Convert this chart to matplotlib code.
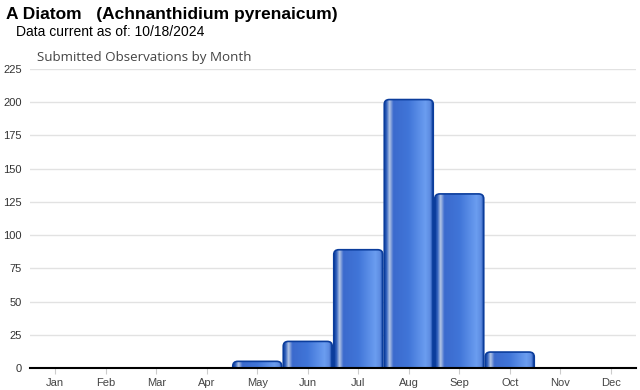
import matplotlib.pyplot as plt
import numpy as np
from matplotlib.patches import FancyBboxPatch
from matplotlib.colors import LinearSegmentedColormap

months = ['Jan', 'Feb', 'Mar', 'Apr', 'May', 'Jun', 'Jul', 'Aug', 'Sep', 'Oct', 'Nov', 'Dec']
counts = [0, 0, 0, 0, 5, 20, 89, 202, 131, 12, 0, 0]
yticks = [0, 25, 50, 75, 100, 125, 150, 175, 200, 225]

plt.rcParams['font.family'] = ['Liberation Sans', 'DejaVu Sans']

fig = plt.figure(figsize=(6.4, 3.9), dpi=100)
ax = fig.add_axes([30/640, 22/390, 606/640, 299/390])

# horizontal shading across each bar
grad = LinearSegmentedColormap.from_list('bar', [
    (0.0, '#0d3f9e'), (0.05, '#3563be'), (0.11, '#b4c6e6'), (0.19, '#3b6acd'),
    (0.5, '#4075d8'), (0.85, '#6b9df0'), (0.95, '#5c8ae0'), (1.0, '#0d3f9e')])
shade = np.linspace(0, 1, 200).reshape(1, -1)

w = 0.97
for i, c in enumerate(counts):
    if c <= 0:
        continue
    x0 = i - w/2
    patch = FancyBboxPatch((x0, -10), w, c + 10,
                           boxstyle='round,pad=0,rounding_size=0.1',
                           mutation_aspect=36, facecolor='none',
                           edgecolor='#0b3d9c', linewidth=1.2, zorder=3)
    ax.add_patch(patch)
    im = ax.imshow(shade, cmap=grad, extent=(x0, x0 + w, 0, c),
                   aspect='auto', zorder=2, interpolation='bilinear')
    im.set_clip_path(patch)

ax.set_xlim(-0.5, 11.5)
ax.set_ylim(0, 225)
ax.set_xticks(range(12))
ax.set_xticklabels(months, fontsize=8, color='#444444')
ax.set_yticks(yticks)
ax.set_yticklabels([str(v) for v in yticks], fontsize=8, color='#333333')
ax.tick_params(axis='y', length=0, pad=6)
ax.tick_params(axis='x', length=4, color='#cccccc', pad=3)
ax.grid(axis='y', color='#e2e2e2', linewidth=1)
ax.set_axisbelow(True)
for s in ['top', 'right', 'left']:
    ax.spines[s].set_visible(False)
ax.spines['bottom'].set_color('black')
ax.spines['bottom'].set_linewidth(1.5)
ax.spines['bottom'].set_zorder(5)

fig.text(6/640, 1 - 15/390, 'A Diatom   (Achnanthidium pyrenaicum)',
         fontsize=12.5, fontweight='bold', va='center', ha='left')
fig.text(16/640, 1 - 32/390, 'Data current as of: 10/18/2024',
         fontsize=10, va='center', ha='left')
fig.text(37/640, 1 - 58/390, 'Submitted Observations by Month',
         fontsize=9.6, va='center', ha='left', color='#444444', family='Open Sans')

fig.savefig('out.png', dpi=100)
